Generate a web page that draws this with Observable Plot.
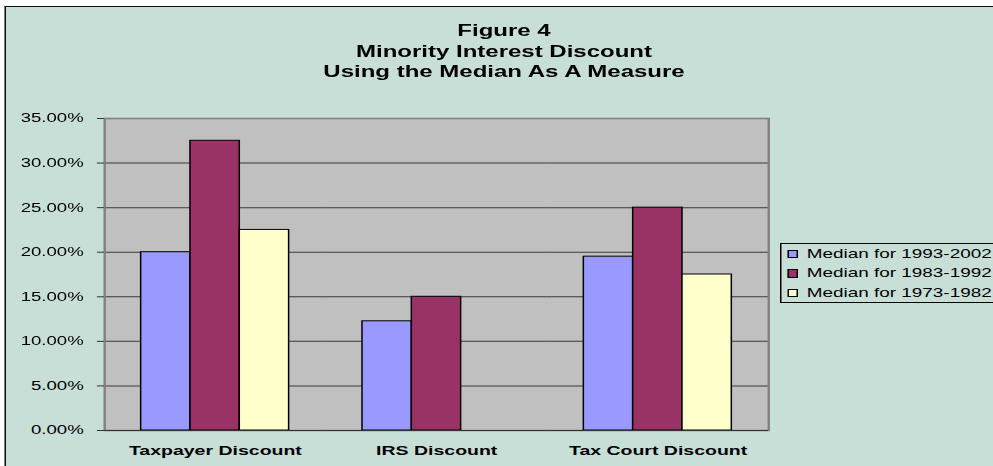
<!DOCTYPE html>
<html>
<head>
<meta charset="utf-8">
<script src="https://cdn.jsdelivr.net/npm/d3@7"></script>
<script src="https://cdn.jsdelivr.net/npm/@observablehq/plot@0.6"></script>
<style>
  html, body { margin: 0; padding: 0; background: #fff; }
  #viewport { position: relative; width: 993px; height: 466px; overflow: hidden; background: #fff; }
  #stage { position: absolute; left: 0; top: 0; width: 662px; height: 466px;
           transform: scaleX(1.5); transform-origin: 0 0;
           font-family: Arial, "Liberation Sans", Helvetica, sans-serif; color: #000; }
  #panel { position: absolute; left: 3.3px; top: 6px; width: 720px; height: 520px;
           border-left: 1.4px solid #111; border-top: 1.5px solid #111; background: #C8DFD8; }
  #chart { position: absolute; left: 0; top: 0; }
  #title { position: absolute; left: 0; width: 672px; top: 21px; text-align: center;
           font-weight: bold; font-size: 16px; line-height: 20.5px; }
  #legend { position: absolute; left: 520px; top: 243px; width: 200px; height: 58px;
            border: 1px solid #000; padding-top: 0; }
  .row { display: flex; align-items: center; height: 19.5px; font-size: 12.6px; white-space: nowrap; }
  .sw { width: 5px; height: 6.5px; border: 1px solid #000; margin-left: 3.7px; margin-right: 6.2px; }
  #chart svg { overflow: visible; }
</style>
</head>
<body>
<div id="viewport">
  <div id="stage">
    <div id="panel"></div>
    <div id="chart"></div>
    <div id="title"></div>
    <div id="legend"></div>
  </div>
</div>
<script>
// ---- data ----
const titleLines = ["Figure 4", "Minority Interest Discount", "Using the Median As A Measure"];
const categories = ["Taxpayer Discount", "IRS Discount", "Tax Court Discount"];
const seriesNames = ["Median for 1993-2002", "Median for 1983-1992", "Median for 1973-1982"];
const median1993_2002 = [0.20, 0.1225, 0.195];
const median1983_1992 = [0.325, 0.15, 0.25];
const median1973_1982 = [0.225, null, 0.175];
const seriesColors = ["#9999FF", "#993366", "#FFFFCC"];
const yTicks = [0, 0.05, 0.10, 0.15, 0.20, 0.25, 0.30, 0.35];

const seriesValues = [median1993_2002, median1983_1992, median1973_1982];
const data = [];
categories.forEach((c, i) => {
  seriesNames.forEach((s, j) => {
    const v = seriesValues[j][i];
    if (v != null) data.push({category: c, series: s, value: v});
  });
});

// ---- title ----
document.getElementById("title").innerHTML = titleLines.map(t => `<div>${t}</div>`).join("");

// ---- legend ----
document.getElementById("legend").innerHTML = seriesNames.map((s, j) =>
  `<div class="row"><div class="sw" style="background:${seriesColors[j]}"></div><span>${s}</span></div>`).join("");

// ---- chart ----
const chart = Plot.plot({
  width: 662,
  height: 466,
  marginLeft: 69.3,
  marginRight: 150,
  marginTop: 118,
  marginBottom: 36,
  style: { background: "transparent", fontFamily: "Arial, 'Liberation Sans', sans-serif", color: "#000" },
  fx: { domain: categories, padding: 0, label: null, round: false },
  x: { domain: seriesNames, paddingInner: 0, paddingOuter: 0.744, axis: null, round: false },
  y: { domain: [0, 0.35], label: null },
  color: { domain: seriesNames, range: seriesColors },
  marks: [
    Plot.frame({ fill: "#C0C0C0", insetLeft: -0.6, insetRight: -0.6 }),
    Plot.gridY(yTicks, { stroke: "#3a3a3a", strokeOpacity: 1, strokeWidth: 1 }),
    Plot.frame({ facet: "super", stroke: "#808080", strokeWidth: 1.6 }),
    Plot.barY(data, { fx: "category", x: "series", y: "value", fill: "series", stroke: "#000", strokeWidth: 1 }),
    Plot.ruleY([0], { stroke: "#333", strokeWidth: 1.2 }),
    Plot.axisY(yTicks, { tickFormat: d => (d * 100).toFixed(2) + "%", tickSize: 4.7, tickPadding: 9.3,
                         fontSize: 12.4, stroke: "#333", label: null }),
    Plot.axisFx({ anchor: "bottom", tickSize: 0, tickPadding: 15, fontSize: 13, fontWeight: "bold", label: null })
  ]
});
document.getElementById("chart").appendChild(chart);
</script>
</body>
</html>
